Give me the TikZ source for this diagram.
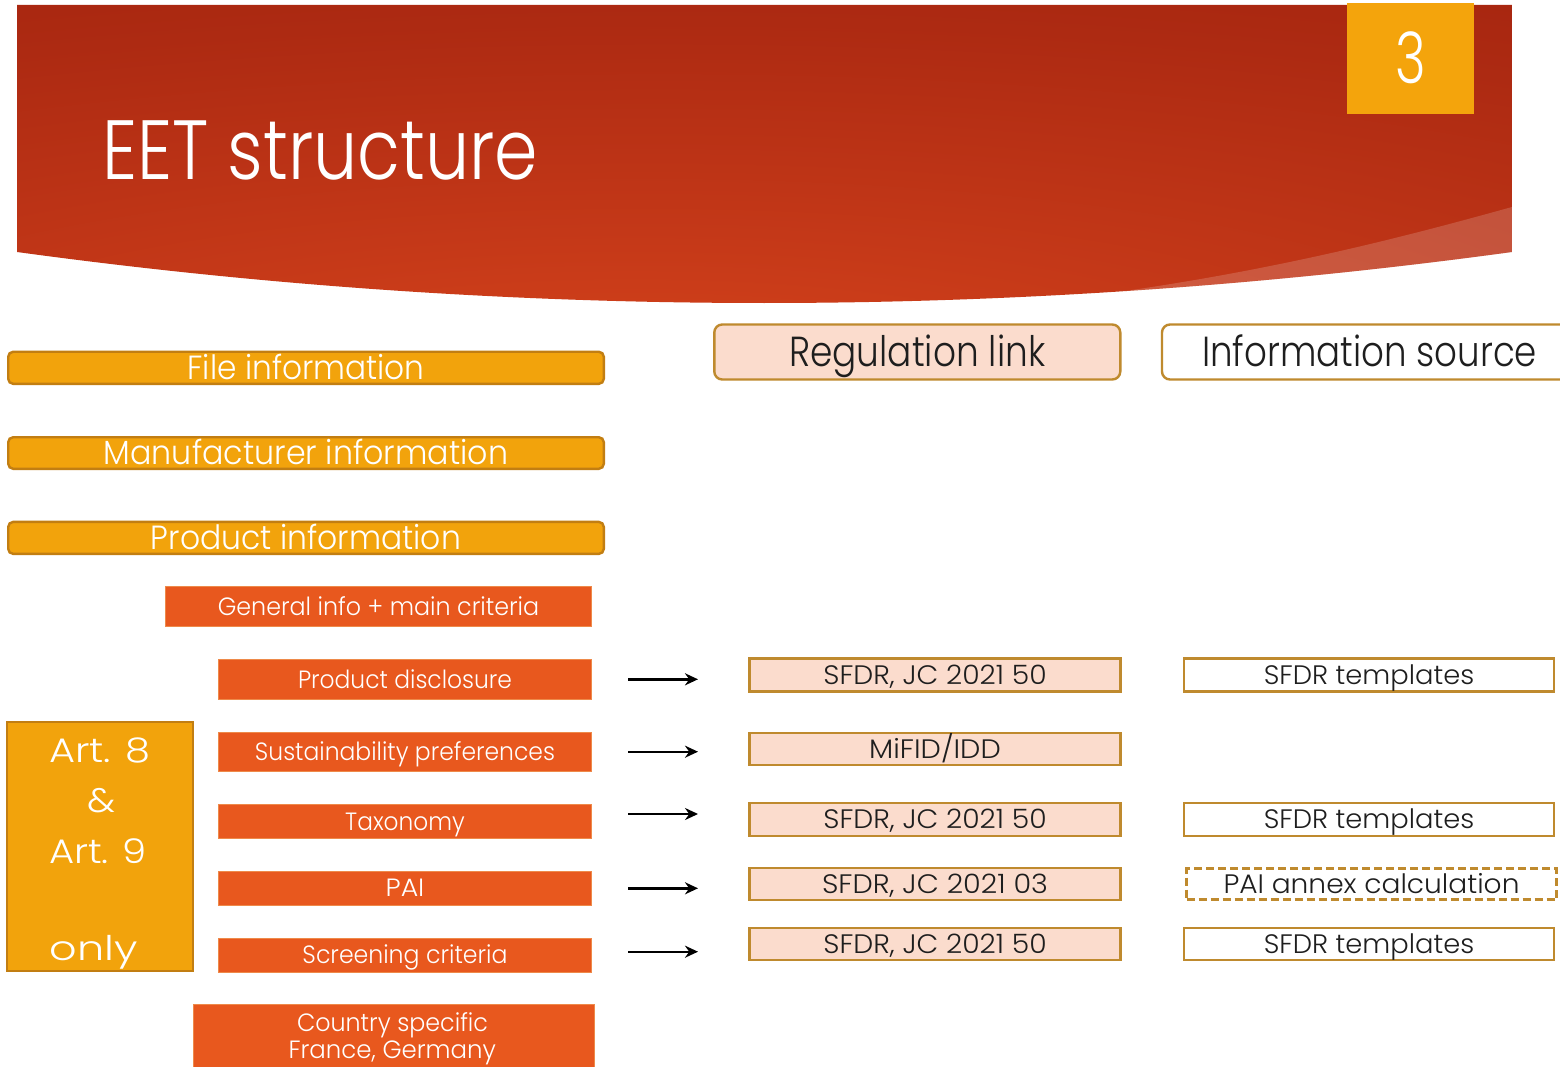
\documentclass[tikz,border=0pt]{standalone}
\usepackage{fontspec}
\IfFontExistsTF{Poppins Light}{\setmainfont{Poppins Light}}{\setmainfont{Poppins}}
\usetikzlibrary{arrows.meta}
\definecolor{cYel}{HTML}{F2A30C}
\definecolor{cYelD}{HTML}{C27E12}
\definecolor{cRed}{HTML}{E8581E}
\definecolor{cRedD}{HTML}{EE8A4A}
\definecolor{cPeach}{HTML}{FBDCCD}
\definecolor{cGold}{HTML}{BF8A2E}
\definecolor{cTxt}{HTML}{1E1E1E}
\definecolor{cNum}{HTML}{F4A40C}
\definecolor{hdrA}{HTML}{D8451B}
\definecolor{hdrB}{HTML}{C43818}
\definecolor{hdrC}{HTML}{AD2A12}
\definecolor{hdrD}{HTML}{9C1F0C}
\pgfdeclareradialshading{hdrshade}{\pgfpoint{-5bp}{-39bp}}{color(0bp)=(hdrA); color(22bp)=(hdrB); color(48bp)=(hdrC); color(75bp)=(hdrD); color(140bp)=(hdrD)}
\newcommand\fitt[3]{\resizebox{#1pt}{\height}{\fontsize{#2pt}{#2pt}\selectfont #3}}
\tikzset{
  wh/.style 2 args={minimum width=#1pt, minimum height=#2pt},
  ybox/.style={rounded corners=5pt, fill=cYel, draw=cYelD, line width=2.4pt, inner sep=0pt, text=white, text height=23.5pt, text depth=0pt},
  rbox/.style={fill=cRed, draw=cRedD, line width=1pt, inner sep=0pt, text=white, text height=17.5pt, text depth=0pt},
  pbox/.style={fill=cPeach, draw=cGold, line width=2.4pt, inner sep=0pt, text=cTxt, text height=18.7pt, text depth=0pt},
  wbox/.style={fill=white, draw=cGold, line width=2.4pt, inner sep=0pt, text=cTxt, text height=18.7pt, text depth=0pt},
  hbox/.style={rounded corners=8pt, draw=cGold, line width=2.4pt, inner sep=0pt, text=cTxt, text height=29.5pt, text depth=0pt},
  artbox/.style={fill=cYel, draw=cYelD, line width=2.4pt, inner sep=0pt},
  wtxt/.style={text=white, inner sep=0pt, anchor=base},
  arr/.style={-{Stealth[length=13pt,width=12pt]}, line width=2.4pt, black}
}
\begin{document}
\begin{tikzpicture}[x=1pt,y=-1pt]
\useasboundingbox (0,0) rectangle (1560,1067);
\fill[white] (0,0) rectangle (1560,1067);
% header banner
\def\hdrpath{(17,5) -- (1512,5) -- (1512,252) .. controls (1013,320) and (515,320) .. (17,252) -- cycle}
\shade[shading=hdrshade] \hdrpath;
\begin{scope}
  \clip \hdrpath;
  \fill[white, opacity=0.17] (1512,207) .. controls (1400,238) and (1250,278) .. (1040,302) -- (1040,400) -- (1600,400) -- (1600,207) -- cycle;
\end{scope}
\node[fill=cNum, inner sep=0pt, wh={127}{111}, text=white, text height=50pt, text depth=0pt] (num) at (1410.5,58.5) {\fitt{30.6}{71}{3}};
\node[wtxt, anchor=base west] (title) at (102,180) {\fitt{436}{84}{EET structure}};
% column headers
\node[hbox, fill=cPeach, wh={406}{55}] (reghead) at (917.3,352) {\fitt{256}{42}{Regulation link}};
\node[hbox, fill=white, wh={415}{55}] (infohead) at (1369.5,352) {\fitt{335}{42}{Information source}};
% left yellow boxes
\node[ybox, wh={595.6}{32.1}] (file) at (306,367.8) {\fitt{237}{33.5}{File information}};
\node[ybox, wh={595.6}{31.6}] (manu) at (306,453) {\fitt{404.4}{33.5}{Manufacturer information}};
\node[ybox, wh={595.6}{32}] (prod) at (306,537.9) {\fitt{310}{33.5}{Product information}};
% red boxes
\node[rbox, wh={426}{40}] (gen) at (378.5,606.5) {\fitt{321.4}{25}{General info + main criteria}};
\node[rbox, wh={373}{39.5}] (pdis) at (405,679.3) {\fitt{214}{25}{Product disclosure}};
\node[rbox, wh={373}{39.3}] (sust) at (405,751.9) {\fitt{300}{25}{Sustainability preferences}};
\node[rbox, wh={373}{34}] (tax) at (405,821.5) {\fitt{119.6}{25}{Taxonomy}};
\node[rbox, wh={373}{34}] (pai) at (405,888.2) {\fitt{38.7}{25}{PAI}};
\node[rbox, wh={373}{34}] (scr) at (405,955.2) {\fitt{205}{25}{Screening criteria}};
\node[rbox, wh={401.5}{86}] (country) at (393.75,1047) {};
\node[wtxt] (country1) at (392.5,1031.5) {\fitt{191}{25}{Country specific}};
\node[wtxt] (country2) at (392.25,1058.5) {\fitt{207.5}{25}{France, Germany}};
% Art box
\node[artbox, wh={185.6}{248.6}] (art) at (100,846.5) {};
\node[wtxt] (art8) at (100,762) {\fitt{101.5}{34}{Art. 8}};
\node[wtxt] (amp) at (101,812.5) {\fitt{28}{34}{\&}};
\node[wtxt] (art9) at (98,863) {\fitt{98}{34}{Art. 9}};
\node[wtxt] (only) at (94,960) {\fitt{88}{34}{only}};
% regulation boxes
\node[pbox, wh={370.8}{33}] (r1) at (935,675) {\fitt{223.3}{26.7}{SFDR, JC 2021 50}};
\node[pbox, wh={370.8}{32}] (r2) at (935,748.85) {\fitt{131.6}{26.7}{MiFID/IDD}};
\node[pbox, wh={370.8}{33}] (r3) at (935,819.2) {\fitt{223.3}{26.7}{SFDR, JC 2021 50}};
\node[pbox, wh={370.8}{32}] (r4) at (935,883.85) {\fitt{226}{26.7}{SFDR, JC 2021 03}};
\node[pbox, wh={370.8}{32}] (r5) at (935,943.85) {\fitt{223.3}{26.7}{SFDR, JC 2021 50}};
% information source boxes
\node[wbox, wh={369.6}{33}] (i1) at (1369,675) {\fitt{210.5}{26.7}{SFDR templates}};
\node[wbox, wh={369.6}{33}] (i3) at (1369,819.2) {\fitt{210.5}{26.7}{SFDR templates}};
\node[wbox, dash pattern=on 8pt off 4pt, wh={370}{31}] (i4) at (1371.5,884) {\fitt{296}{26.7}{PAI annex calculation}};
\node[wbox, wh={369.6}{32}] (i5) at (1369,943.85) {\fitt{210.5}{26.7}{SFDR templates}};
% arrows
\coordinate (a1s) at (628,679.3); \coordinate (a1e) at (698,679.3);
\coordinate (a2s) at (628,751.7); \coordinate (a2e) at (698,751.7);
\coordinate (a3s) at (628,814);   \coordinate (a3e) at (698,814);
\coordinate (a4s) at (628,888.3); \coordinate (a4e) at (698,888.3);
\coordinate (a5s) at (628,951.7); \coordinate (a5e) at (698,951.7);
\draw[arr] (a1s) -- (a1e);
\draw[arr] (a2s) -- (a2e);
\draw[arr] (a3s) -- (a3e);
\draw[arr] (a4s) -- (a4e);
\draw[arr] (a5s) -- (a5e);
\end{tikzpicture}
\end{document}
